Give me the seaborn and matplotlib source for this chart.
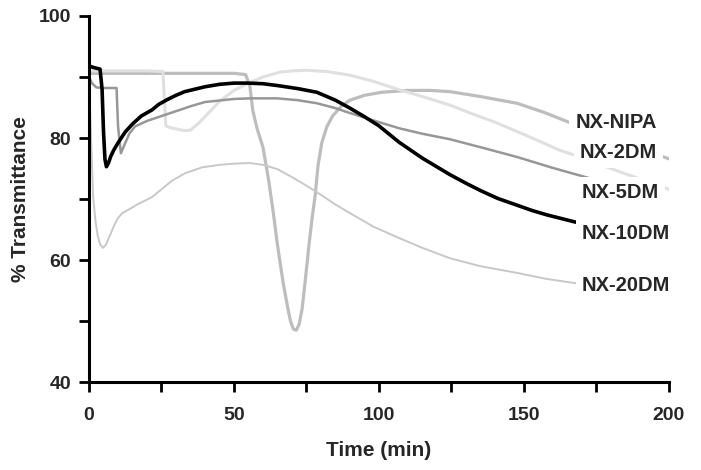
import numpy as np
import pandas as pd
import matplotlib
matplotlib.use("Agg")
import matplotlib.pyplot as plt
import seaborn as sns
from matplotlib.ticker import MultipleLocator

# data
t_nipa = [0, 10, 30, 50, 54, 55.5, 56.5, 58, 60, 62, 63.5, 65, 67, 68.5, 69.5, 70.5, 71.5,
          72.5, 73.5, 74.5, 76, 77, 78, 79, 80.3, 82, 84, 87, 90, 95, 101, 110, 118,
          124.5, 135, 147.6, 157, 166, 180, 190, 200]
v_nipa = [90.6, 90.6, 90.6, 90.6, 90.4, 88.5, 84.5, 81.5, 78.5, 73, 68, 62.5, 56.2, 52.3,
          50.0, 48.7, 48.5, 49.5, 52, 56.2, 63, 67, 70.5, 75.5, 79.2, 81.8, 83.6, 85.2,
          86.2, 87.0, 87.5, 87.8, 87.8, 87.6, 86.8, 85.7, 84.2, 82.5, 80, 78.3, 76.6]

t_2dm = [0, 10, 20, 25.5, 26.5, 28, 31, 33, 35, 37.5, 40, 45, 50, 55, 60, 65.9, 70, 75,
         82, 90, 98, 107, 115, 124.5, 132, 140, 150, 162.4, 170, 180, 190, 200]
v_2dm = [91.0, 91.0, 91.0, 90.9, 82, 81.7, 81.4, 81.2, 81.3, 82.3, 83.5, 86.0, 87.8, 89.0,
         90.0, 90.8, 91.0, 91.1, 90.9, 90.3, 89.3, 87.9, 86.8, 85.4, 84.0, 82.6, 80.6,
         78.0, 76.8, 75.0, 73.3, 71.6]

t_5dm = [0, 1, 2.5, 5, 9.5, 10, 11, 12.5, 14, 15.9, 20, 25, 30, 35, 40, 50, 55.5, 65, 72,
         78.6, 85, 90, 98, 107, 115, 124.5, 135, 147.6, 160, 172.8, 178]
v_5dm = [90, 89, 88.3, 88.2, 88.2, 82, 77.5, 79.2, 80.8, 81.9, 82.8, 83.6, 84.4, 85.2,
         85.9, 86.4, 86.5, 86.5, 86.2, 85.7, 84.9, 84.1, 82.9, 81.6, 80.7, 79.8, 78.5,
         76.9, 75.1, 73.4, 72.6]

t_10dm = [0, 2, 3.8, 4.5, 5.0, 5.5, 6, 6.7, 7.5, 8.5, 10, 12.5, 15, 18, 21.7, 24, 27, 30,
          33, 36.5, 40, 45, 50, 55, 60, 65, 72, 78.6, 85, 90, 95, 100, 107, 115, 124.5,
          130, 135, 141, 147.6, 153, 158, 163, 168]
v_10dm = [91.8, 91.5, 91.3, 88, 81, 76.5, 75.3, 75.9, 77, 78, 79.2, 81, 82.3, 83.6, 84.6,
          85.5, 86.3, 87.0, 87.6, 88.0, 88.4, 88.8, 89.0, 89.0, 88.9, 88.6, 88.1, 87.5,
          86.2, 84.9, 83.5, 82.0, 79.3, 76.7, 74, 72.6, 71.4, 70.1, 69, 68.1, 67.4,
          66.8, 66.2]

t_20dm = [0, 0.7, 1.4, 2.2, 3, 3.8, 4.8, 5.8, 7, 8.5, 10, 11.5, 13.4, 17, 21.7, 25, 28.6,
          33, 39, 45, 50, 55.5, 60, 65, 70, 75, 80, 85, 90, 98, 107, 115, 124.5, 135,
          147.6, 158, 168]
v_20dm = [90, 80, 70.5, 66.5, 64, 62.6, 62, 62.5, 63.8, 65.5, 66.9, 67.7, 68.2, 69.2, 70.3,
          71.6, 73.0, 74.2, 75.2, 75.6, 75.8, 75.9, 75.6, 74.9, 73.6, 72.2, 70.7, 69.1,
          67.7, 65.5, 63.6, 62.0, 60.3, 59.0, 57.9, 56.9, 56.2]

labels = ["NX-NIPA", "NX-2DM", "NX-5DM", "NX-10DM", "NX-20DM"]
label_t = [167.8, 169.4, 170.0, 170.0, 170.0]
label_v = [82.6, 77.7, 71.0, 64.4, 55.9]

series = [
    (t_nipa, v_nipa, "#bdbdbd", 2.3),
    (t_2dm, v_2dm, "#e0e0e0", 2.2),
    (t_5dm, v_5dm, "#979797", 1.8),
    (t_20dm, v_20dm, "#c8c8c8", 1.4),
    (t_10dm, v_10dm, "#000000", 2.6),
]

sns.set_style("white")
plt.rcParams["font.family"] = ["Liberation Sans", "DejaVu Sans"]
plt.rcParams["font.weight"] = "bold"

fig = plt.figure(figsize=(7.01, 4.70), dpi=100)
ax = fig.add_axes([0.127, 0.187, 0.827, 0.779])

for t, v, col, lw in series:
    df = pd.DataFrame({"t": t, "v": v})
    sns.lineplot(data=df, x="t", y="v", color=col, linewidth=lw, ax=ax,
                 estimator=None, sort=False, zorder=2)

for name, tx, vy in zip(labels, label_t, label_v):
    ax.text(tx, vy, name, fontsize=14.5, fontweight="bold", va="center", ha="left",
            zorder=5, bbox=dict(boxstyle="square,pad=0.3", fc="white", ec="none"))

ax.set_xlim(0, 200)
ax.set_ylim(40, 100)
ax.xaxis.set_major_locator(MultipleLocator(50))
ax.xaxis.set_minor_locator(MultipleLocator(25))
ax.yaxis.set_major_locator(MultipleLocator(20))
ax.yaxis.set_minor_locator(MultipleLocator(10))

sns.despine(ax=ax)
for s in ["left", "bottom"]:
    ax.spines[s].set_linewidth(2.2)
    ax.spines[s].set_color("black")

ax.tick_params(which="both", bottom=True, left=True, direction="out", length=7,
               width=2, color="black")
ax.tick_params(axis="x", which="major", pad=11, labelsize=14)
ax.tick_params(axis="y", which="major", pad=6, labelsize=14)
for lab in ax.get_xticklabels() + ax.get_yticklabels():
    lab.set_fontweight("bold")

ax.set_xlabel("Time (min)", fontsize=15, fontweight="bold", labelpad=12)
ax.set_ylabel("% Transmittance", fontsize=15, fontweight="bold", labelpad=6)

fig.savefig("out.png", dpi=100)
